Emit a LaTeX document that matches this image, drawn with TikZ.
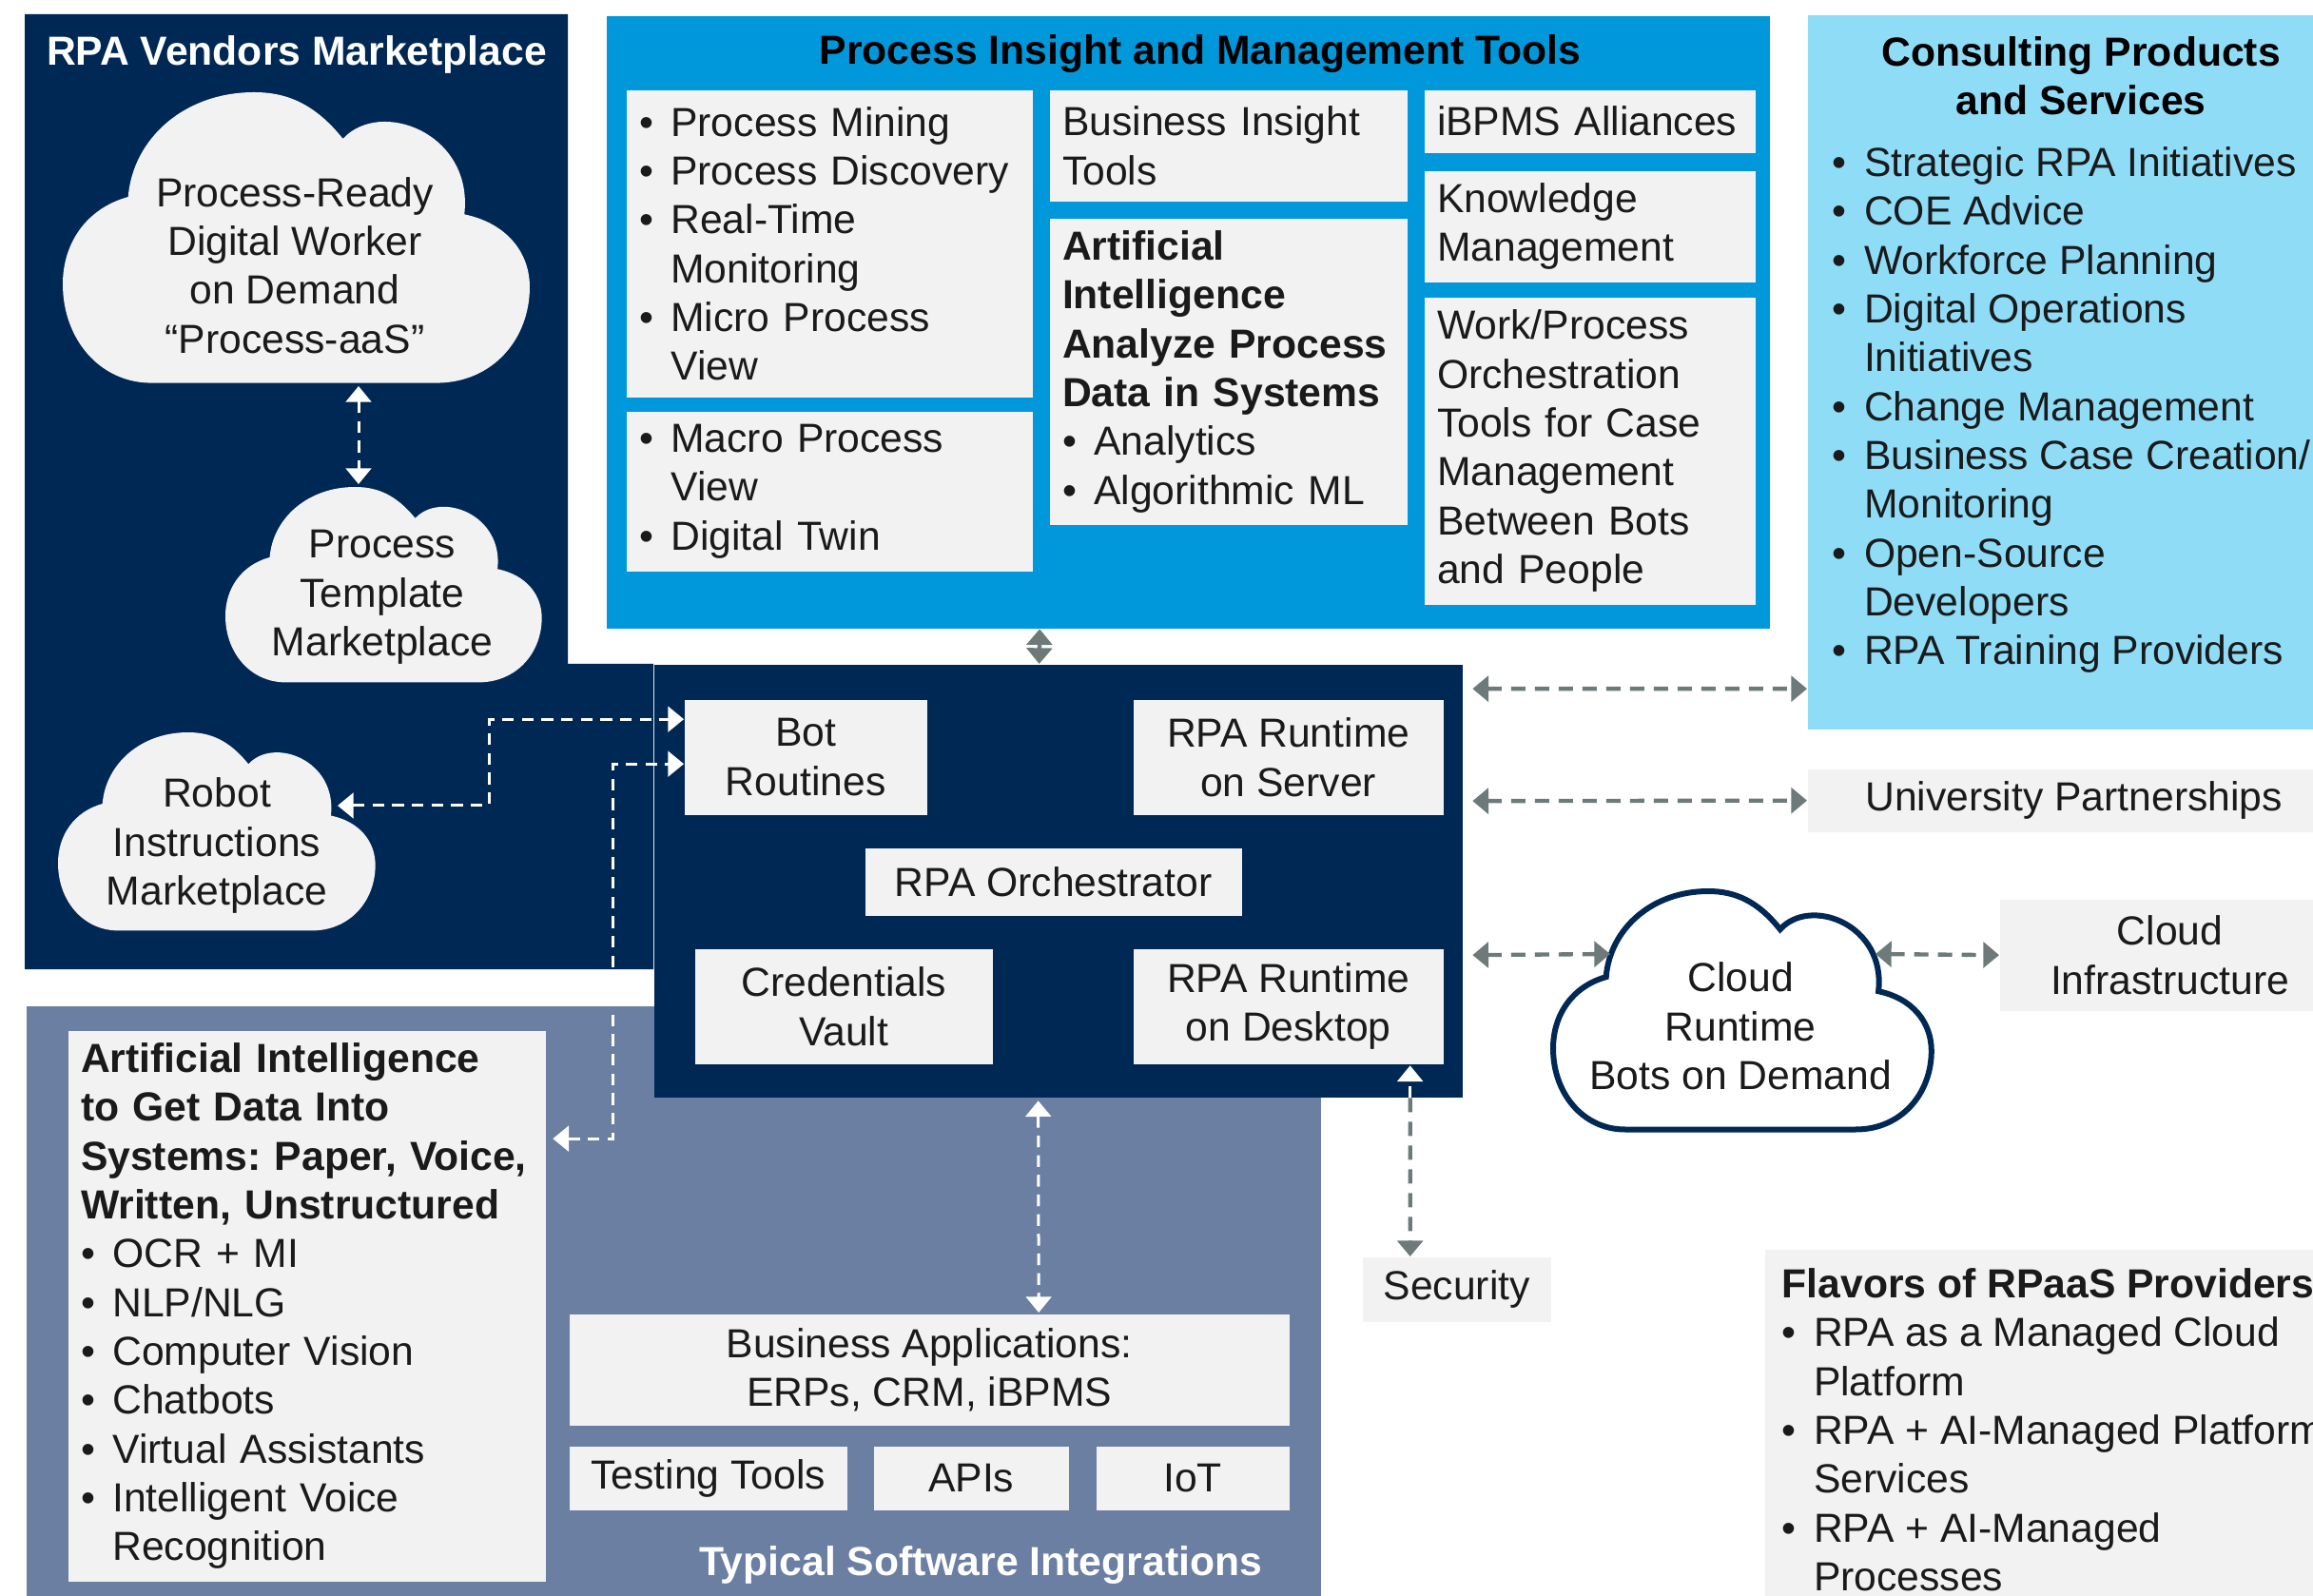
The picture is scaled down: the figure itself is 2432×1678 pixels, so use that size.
\documentclass[tikz,border=0pt]{standalone}
\usepackage{fontspec}
\setmainfont{Liberation Sans}
\usetikzlibrary{arrows.meta}
\frenchspacing

\definecolor{navy}{RGB}{0,40,85}
\definecolor{midblue}{RGB}{0,152,219}
\definecolor{skyblue}{RGB}{143,220,247}
\definecolor{slate}{RGB}{107,127,163}
\definecolor{boxgrey}{RGB}{242,242,242}
\definecolor{arrowgrey}{RGB}{110,122,122}
\definecolor{ink}{RGB}{26,26,26}

\newcommand{\bodyfont}{\fontsize{12.8pt}{15.4pt}\selectfont}
\newcommand{\itemdot}{\makebox[10pt][l]{\textbullet}}
\newcommand{\itemgap}{\hspace*{10pt}}

% cloud in a 100x100 box: #1 style, #2 #3 top left, #4 width, #5 height (pixels)
\newcommand{\cloudshape}[5]{%
  \path[#1, shift={(#2,#3)}, x=#4*0.003pt, y=-#5*0.003pt]
    (19,100) -- (80,100) .. controls (92,100) and (100,85) .. (100,67)
    .. controls (100,55) and (95,45) .. (86,42)
    .. controls (88,14) and (68,2) .. (60,16)
    .. controls (54,4) and (48,0) .. (41,0)
    .. controls (26,0) and (15,16) .. (14,36)
    .. controls (5,40) and (0,52) .. (0,66)
    .. controls (0,85) and (8,100) .. (19,100) -- cycle;}

\tikzset{
  panel/.style={inner sep=0pt, anchor=north west},
  gbox/.style={fill=boxgrey, text=ink, font=\bodyfont, inner sep=0pt, anchor=north west},
  tbox/.style={gbox, inner xsep=4pt, align=left},
  cbox/.style={gbox, align=center},
  cloudtext/.style={font=\bodyfont, text=ink, align=center},
  whead/.style={text=white, font=\bodyfont\bfseries},
  bhead/.style={text=black, font=\bodyfont\bfseries},
  wdash/.style={white, line width=0.9pt, dash pattern=on 3.7pt off 2.5pt},
  gdash/.style={arrowgrey, line width=1.3pt, dash pattern=on 4.5pt off 3pt},
  garrow/.style={arrowgrey, line width=1.3pt}
}

\begin{document}
\begin{tikzpicture}[x=0.3pt, y=-0.3pt, >={Triangle[length=5pt,width=8pt]}]
\useasboundingbox (0,0) rectangle (2432,1678);

% panels
\node[panel, fill=slate, minimum width=408.3pt, minimum height=192.9pt] (tsi) at (27,1057) {};
\fill[navy] (26,15) -- (597,15) -- (597,698) -- (687,698) -- (687,1019) -- (26,1019) -- cycle;
\node[panel, fill=navy, minimum width=255pt, minimum height=136.5pt] (core) at (687,698) {};
\node[panel, fill=midblue, minimum width=366.9pt, minimum height=193.2pt] (pim) at (637,16) {};
\node[panel, fill=skyblue, minimum width=168pt, minimum height=225.3pt] (cps) at (1900,15) {};

% RPA vendors marketplace
\node[whead] (rvm) at (312,57) {RPA Vendors Marketplace};
\cloudshape{fill=boxgrey}{66}{97}{490}{305}
\node[cloudtext] (pdw) at (310,279) {Process-Ready\\Digital Worker\\on Demand\\``Process-aaS''};
\cloudshape{fill=boxgrey}{237}{512}{332}{205}
\node[cloudtext] (ptm) at (402,628) {Process\\Template\\Marketplace};
\cloudshape{fill=boxgrey}{61}{770}{333}{208}
\node[cloudtext] (rim) at (228,889) {Robot\\Instructions\\Marketplace};

% process insight
\node[bhead] (pimt) at (1262,57) {Process Insight and Management Tools};
\node[tbox, minimum width=128.1pt, minimum height=96.9pt, text width=120.1pt] (pmine) at (658,94)
  {\itemdot Process Mining\\ \itemdot Process Discovery\\ \itemdot Real-Time\\ \itemgap Monitoring\\ \itemdot Micro Process\\ \itemgap View};
\node[tbox, minimum width=128.1pt, minimum height=50.4pt, text width=120.1pt] (pmacro) at (658,432)
  {\itemdot Macro Process\\ \itemgap View\\ \itemdot Digital Twin};
\node[tbox, minimum width=112.8pt, minimum height=35.1pt, text width=104.8pt] (binsight) at (1103,94)
  {Business Insight\\Tools};
\node[tbox, minimum width=112.8pt, minimum height=96.6pt, text width=104.8pt] (aiproc) at (1103,229)
  {\textbf{Artificial}\\ \textbf{Intelligence}\\ \textbf{Analyze Process}\\ \textbf{Data in Systems}\\ \itemdot Analytics\\ \itemdot Algorithmic ML};
\node[tbox, minimum width=104.4pt, minimum height=19.8pt, text width=96.4pt] (ibpms) at (1497,94)
  {iBPMS Alliances};
\node[tbox, minimum width=104.4pt, minimum height=35.1pt, text width=96.4pt] (kmgmt) at (1497,179)
  {Knowledge\\Management};
\node[tbox, minimum width=104.4pt, minimum height=96.9pt, text width=96.4pt] (wporch) at (1497,312)
  {Work/Process\\Orchestration\\Tools for Case\\Management\\Between Bots\\and People};

% consulting
\node[bhead, align=center] (cpst) at (2188,80) {Consulting Products\\and Services};
\node[font=\bodyfont, text=ink, align=left, anchor=west, inner sep=0pt] (cpsl) at (1926,431)
  {\itemdot Strategic RPA Initiatives\\ \itemdot COE Advice\\ \itemdot Workforce Planning\\ \itemdot Digital Operations\\ \itemgap Initiatives\\ \itemdot Change Management\\ \itemdot Business Case Creation/\\ \itemgap Monitoring\\ \itemdot Open-Source\\ \itemgap Developers\\ \itemdot RPA Training Providers};

% runtime core
\node[cbox, minimum width=76.5pt, minimum height=36.3pt] (bot) at (719,735) {Bot\\Routines};
\node[cbox, minimum width=97.8pt, minimum height=36.3pt] (rts) at (1191,735) {RPA Runtime\\on Server};
\node[cbox, minimum width=118.8pt, minimum height=21.3pt] (orc) at (909,891) {RPA Orchestrator};
\node[cbox, minimum width=93.9pt, minimum height=36.3pt] (cred) at (730,997) {Credentials\\Vault};
\node[cbox, minimum width=97.8pt, minimum height=36.3pt] (dsk) at (1191,997) {RPA Runtime\\on Desktop};

% software integrations
\node[tbox, minimum width=150.6pt, minimum height=173.7pt, text width=142.6pt] (aig) at (71,1083)
  {\textbf{Artificial Intelligence}\\ \textbf{to Get Data Into}\\ \textbf{Systems: Paper, Voice,}\\ \textbf{Written, Unstructured}\\ \itemdot OCR + MI\\ \itemdot NLP/NLG\\ \itemdot Computer Vision\\ \itemdot Chatbots\\ \itemdot Virtual Assistants\\ \itemdot Intelligent Voice\\ \itemgap Recognition};
\node[cbox, minimum width=227.1pt, minimum height=35.1pt] (bapp) at (598,1381) {Business Applications:\\ERPs, CRM, iBPMS};
\node[cbox, minimum width=87.6pt, minimum height=20.1pt] (test) at (598,1520) {Testing Tools};
\node[cbox, minimum width=61.5pt, minimum height=20.1pt] (apis) at (918,1520) {APIs};
\node[cbox, minimum width=60.9pt, minimum height=20.1pt] (iot) at (1152,1520) {IoT};
\node[whead] (tsit) at (1031,1646) {Typical Software Integrations};

% right side
\node[cbox, minimum width=168pt, minimum height=19.8pt] (univ) at (1900,808) {University Partnerships};
\cloudshape{fill=white, draw=navy, line width=1.8pt}{1633}{937}{397}{250}
\node[cloudtext] (crt) at (1830,1079) {Cloud\\Runtime\\Bots on Demand};
\node[cbox, minimum width=107.4pt, minimum height=35.1pt] (cinf) at (2102,945) {Cloud\\Infrastructure};
\node[cbox, minimum width=59.4pt, minimum height=20.4pt] (sec) at (1432,1321) {Security};
\node[panel, fill=boxgrey, minimum width=181.5pt, minimum height=116.1pt] (flav) at (1855,1313) {};
\node[font=\bodyfont, text=ink, align=left, anchor=north west, inner sep=0pt] (flavl) at (1873,1333)
  {\textbf{Flavors of RPaaS Providers}\\ \itemdot RPA as a Managed Cloud\\ \itemgap Platform\\ \itemdot RPA + AI-Managed Platform\\ \itemgap Services\\ \itemdot RPA + AI-Managed\\ \itemgap Processes};

% white links
\draw[wdash,<->] ([shift={(67,127)}]pdw.center) -- ([shift={(-25,-119)}]ptm.center);
\draw[wdash,<->] ([shift={(127,-42)}]rim.center) -- ++(159,0) |- ([shift={(0,-40)}]bot.west);
\draw[wdash,<->] ([shift={(7,-176)}]aig.east) -- ++(63,0) |- ([shift={(0,7)}]bot.west);
\draw[wdash,<->] ([shift={(-21,3)}]core.south) -- ([shift={(115,-1)}]bapp.north);
\draw[wdash,->] ([shift={(128,35)}]dsk.south) -- ([shift={(128,1)}]dsk.south);

% grey links
\draw[garrow,<->] ([shift={(-156,0)}]pim.south) -- ([shift={(-20,0)}]core.north);
\draw[gdash,<->] ([shift={(10,-202)}]core.east) -- ([shift={(0,333)}]cps.west);
\draw[gdash,<->] ([shift={(10,-84)}]core.east) -- (univ.west);
\draw[gdash,<->] ([shift={(10,78)}]core.east) -- ([shift={(-137,-76)}]crt.center);
\draw[gdash,<->] ([shift={(142,-76)}]crt.center) -- (cinf.west);
\draw[gdash,->] ([shift={(128,35)}]dsk.south) -- ([shift={(-49,0)}]sec.north);
\end{tikzpicture}
\end{document}
